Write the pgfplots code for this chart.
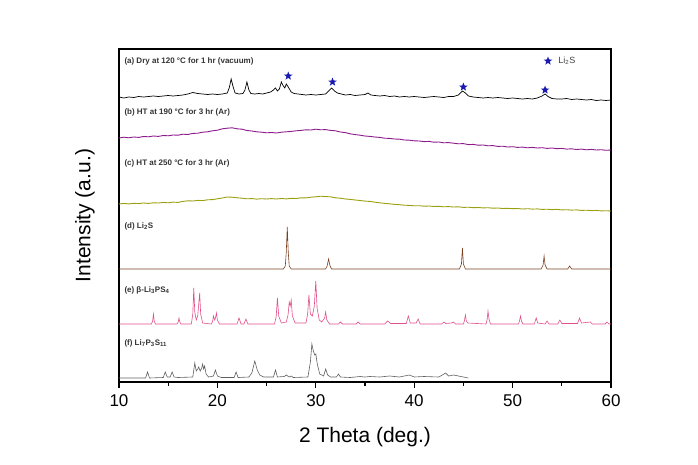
\documentclass[border=0pt]{standalone}
\usepackage{fontspec}
\setmainfont{Liberation Sans}
\usepackage{pgfplots}
\pgfplotsset{compat=1.18}
\definecolor{cB}{HTML}{8E1B8C}
\definecolor{cC}{HTML}{9AA010}
\definecolor{cD}{HTML}{7A4020}
\definecolor{cE}{HTML}{E0508A}
\definecolor{cF}{HTML}{606060}
\definecolor{cStar}{HTML}{1A1AB0}
\pgfdeclareplotmark{fstar}{%
  \pgfpathmoveto{\pgfpointpolar{90}{\pgfplotmarksize}}%
  \pgfpathlineto{\pgfpointpolar{126}{0.42\pgfplotmarksize}}%
  \pgfpathlineto{\pgfpointpolar{162}{\pgfplotmarksize}}%
  \pgfpathlineto{\pgfpointpolar{198}{0.42\pgfplotmarksize}}%
  \pgfpathlineto{\pgfpointpolar{234}{\pgfplotmarksize}}%
  \pgfpathlineto{\pgfpointpolar{270}{0.42\pgfplotmarksize}}%
  \pgfpathlineto{\pgfpointpolar{306}{\pgfplotmarksize}}%
  \pgfpathlineto{\pgfpointpolar{342}{0.42\pgfplotmarksize}}%
  \pgfpathlineto{\pgfpointpolar{18}{\pgfplotmarksize}}%
  \pgfpathlineto{\pgfpointpolar{54}{0.42\pgfplotmarksize}}%
  \pgfpathclose\pgfusepathqfill}
\begin{document}
\begin{tikzpicture}
\begin{axis}[
  width=492pt, height=333pt, scale only axis,
  xmin=10, xmax=60, ymin=0, ymax=333,
  xtick={10,20,...,60}, minor x tick num=1,
  ytick=\empty,
  tick pos=left, tick align=outside,
  major tick length=6pt, minor tick length=3.5pt,
  axis line style={line width=1.1pt},
  every tick/.style={black, line width=1.1pt},
  /pgf/number format/assume math mode=true,
  xticklabel style={font=\fontsize{17}{17}\selectfont, yshift=-3pt},
  xlabel={2 Theta (deg.)}, ylabel={Intensity (a.u.)},
  every axis x label/.style={at={(axis description cs:0.5,0)}, anchor=center, yshift=-55pt, font=\fontsize{21}{21}\selectfont},
  every axis y label/.style={at={(axis description cs:-0.069,0.5)}, rotate=90, anchor=center, font=\fontsize{21}{21}\selectfont},
  clip=false,
]
% (a)
\addplot[black, line width=0.7pt] coordinates {
(10.0,285)(10.5,284)(11.0,285)(11.5,284.5)(12.0,285.5)(12.5,285)(13.0,285.5)(13.5,286)(14.0,285.5)(14.5,286)(15.0,286.5)(15.5,286)(16.0,286.5)(16.5,287)(17.0,288)(17.5,289.5)(18.0,288.5)(18.5,288)(19.0,287.5)(19.5,288)(20.0,287.5)(20.5,288)(21.0,289)(21.2,294)(21.4,303)(21.6,295)(21.8,289)(22.2,288)(22.6,288.5)(22.8,292)(23.0,300)(23.2,292)(23.4,288.5)(23.8,288)(24.2,288.5)(24.6,288)(25.0,289)(25.4,290)(25.7,292)(25.9,294)(26.1,291)(26.3,293)(26.5,300)(26.7,296)(26.85,294)(27.0,298)(27.2,295)(27.5,290)(27.8,288.5)(28.2,288)(28.6,287.5)(29.0,287)(29.5,287.5)(30.0,287)(30.5,287.5)(31.0,288)(31.3,291)(31.6,294)(31.9,291)(32.2,289)(32.6,288)(33.0,287)(33.5,287.5)(34.0,286.5)(34.5,287)(35.0,287.5)(35.3,289)(35.6,287)(36.0,286.5)(36.5,286)(37.0,286.5)(37.5,285.5)(38.0,286)(38.5,285)(39.0,285.5)(39.5,285)(40.0,285.5)(40.5,285)(41.0,284.5)(41.5,285)(42.0,285.5)(42.5,285)(43.0,284.5)(43.5,285.5)(44.0,285.5)(44.5,287)(44.9,291)(45.2,289)(45.5,286)(46.0,285)(46.5,284.5)(47.0,284)(47.5,284.5)(48.0,284)(48.5,284.5)(49.0,284)(49.5,283.5)(50.0,284)(50.5,283.5)(51.0,283)(51.5,283.5)(52.0,283)(52.5,284)(53.0,286)(53.3,288)(53.6,285.5)(54.0,283.5)(54.5,283)(55.0,283)(55.5,283.5)(56.0,282.5)(56.5,283)(57.0,282.5)(57.5,282)(58.0,282.5)(58.5,281.5)(59.0,282)(59.5,281.5)(60.0,282)
};
% (b)
\addplot[cB, line width=0.9pt] coordinates {
(10.0,244)(10.5,244.8)(11.0,244.2)(11.5,245)(12.0,244.6)(12.5,245.5)(13.0,245.2)(13.5,246)(14.0,245.6)(14.5,246.5)(15.0,246.2)(15.5,247)(16.0,246.8)(16.5,247.8)(17.0,247.5)(17.5,248.6)(18.0,248.8)(18.5,249.8)(19.0,250.2)(19.5,251.2)(20.0,251.8)(20.5,253.2)(21.0,253.8)(21.5,254.2)(22.0,253.2)(22.5,252.8)(23.0,251.5)(23.5,251)(24.0,250.2)(24.5,249.8)(25.0,249.2)(25.5,249.5)(26.0,249)(26.5,249.8)(27.0,250.2)(27.5,250.6)(28.0,251.2)(28.5,251.6)(29.0,252.2)(29.5,252)(30.0,252.8)(30.5,252.2)(31.0,252.4)(31.5,251.6)(32.0,251.2)(32.5,250)(33.0,249.4)(33.5,248.2)(34.0,247.4)(34.5,246.8)(35.0,246)(35.5,245.6)(36.0,245)(36.5,244.6)(37.0,243.8)(37.5,243.6)(38.0,243)(38.5,242.8)(39.0,242)(39.5,241.8)(40.0,241.2)(40.5,241)(41.0,240.4)(41.5,240.6)(42.0,239.8)(42.5,240)(43.0,239.2)(43.5,239.4)(44.0,238.8)(44.5,238.2)(45.0,238.4)(45.5,237.4)(46.0,237.6)(46.5,236.8)(47.0,237)(47.5,236.2)(48.0,236.4)(48.5,235.6)(49.0,235.8)(49.5,235)(50.0,235.3)(50.5,234.6)(51.0,234.9)(51.5,234.2)(52.0,234.6)(52.5,234)(53.0,234.3)(53.5,233.6)(54.0,234)(54.5,233.3)(55.0,233.6)(55.5,232.9)(56.0,233.2)(56.5,232.5)(57.0,232.9)(57.5,232.2)(58.0,232.6)(58.5,232)(59.0,232.3)(59.5,231.7)(60.0,232)
};
% (c)
\addplot[cC, line width=0.9pt] coordinates {
(10.0,178)(10.5,178.6)(11.0,178.1)(11.5,178.7)(12.0,178.4)(12.5,179)(13.0,178.6)(13.5,179.2)(14.0,179)(14.5,179.6)(15.0,179.2)(15.5,179.9)(16.0,179.6)(16.5,180.6)(17.0,181.2)(17.5,181)(18.0,181.6)(18.5,181.4)(19.0,182.2)(19.5,182.4)(20.0,183.2)(20.5,184)(21.0,185)(21.5,184.8)(22.0,184.2)(22.5,183.8)(23.0,183.2)(23.5,183.4)(24.0,182.9)(24.5,183.3)(25.0,183)(25.5,183.4)(26.0,183)(26.5,183.5)(27.0,183.1)(27.5,183.7)(28.0,183.5)(28.5,184.2)(29.0,184.1)(29.5,184.8)(30.0,185.2)(30.5,185.8)(31.0,185.4)(31.5,185.2)(32.0,184.2)(32.5,183.8)(33.0,183)(33.5,182.6)(34.0,182)(34.5,181.5)(35.0,180.9)(35.5,180.6)(36.0,179.8)(36.5,179.2)(37.0,178.6)(37.5,178.2)(38.0,177.6)(38.5,177.3)(39.0,176.8)(39.5,176.6)(40.0,176.2)(40.5,176.3)(41.0,175.8)(41.5,176)(42.0,175.5)(42.5,175.7)(43.0,175.2)(43.5,175.4)(44.0,175)(44.5,175.2)(45.0,174.6)(45.5,174.8)(46.0,174.3)(46.5,174.5)(47.0,174.1)(47.5,174.3)(48.0,173.8)(48.5,174)(49.0,173.5)(49.5,173.7)(50.0,173.3)(50.5,173.5)(51.0,173)(51.5,173.3)(52.0,172.9)(52.5,173.1)(53.0,172.6)(53.5,172.8)(54.0,172.4)(54.5,172.6)(55.0,172.1)(55.5,172.3)(56.0,171.9)(56.5,172.1)(57.0,171.6)(57.5,171.8)(58.0,171.4)(58.5,171.6)(59.0,171.1)(59.5,171.3)(60.0,171)
};
% (d)
\addplot[cD, line width=0.6pt] coordinates {
(10,113)(26.7,113)(26.9,116)(27.0,130)(27.1,155)(27.2,130)(27.3,116)(27.5,113)(31.0,113)(31.15,116)(31.3,123)(31.45,116)(31.6,113)(44.6,113)(44.8,118)(44.9,134)(45.0,118)(45.2,113)(52.9,113)(53.1,117)(53.2,126)(53.3,117)(53.5,113)(55.6,113)(55.8,116)(56.0,113)(60,113)
};
% (e)
\addplot[cE, line width=0.6pt] coordinates {
(10,58)(13.3,58)(13.42,61)(13.5,68)(13.58,61)(13.7,58)(15.9,58)(16.02,60)(16.1,64)(16.18,60)(16.3,58)
(17.35,58)(17.5,68)(17.6,94)(17.7,70)(17.85,62)(18.0,66)(18.2,89)(18.3,68)(18.5,59)
(19.4,58)(19.52,61)(19.6,66)(19.72,62)(19.8,64)(19.9,69)(20.0,62)(20.2,58)
(22.0,58)(22.2,64)(22.4,58)(22.7,58)(22.9,63)(23.1,58)
(25.8,58)(25.97,65)(26.1,84)(26.23,66)(26.5,59)(27.0,60)(27.18,67)(27.3,80)(27.4,76)(27.5,82)(27.62,66)(27.9,59)
(29.0,59)(29.17,68)(29.3,87)(29.45,68)(29.65,66)(29.85,76)(30.0,101)(30.13,74)(30.35,62)(30.6,60)(30.9,64)(31.0,70)(31.12,62)(31.4,58)
(32.3,58)(32.5,60)(32.7,58)(34.1,58)(34.3,60)(34.5,58)(37.0,58)(37.3,61)(37.6,58.5)
(39.2,58.5)(39.4,66)(39.6,59)(40.2,59)(40.4,63)(40.6,58)(42.8,58)(43.0,60)(43.2,58.5)(43.8,59)(44.0,60)(44.2,58)
(45.0,58)(45.1,61)(45.2,67)(45.3,61)(45.45,59)(47.3,58)(47.42,63)(47.5,71)(47.6,63)(47.75,58)
(50.6,58)(50.7,61)(50.8,66)(50.9,61)(51.05,58)(52.2,58)(52.4,64)(52.55,59)(53.3,58)(53.5,61)(53.7,58)(54.6,58)(54.8,62)(55.0,58.5)(56.6,58.5)(56.8,64)(57.0,59)(57.9,60)(58.1,58)(59.4,58)(59.6,60)(59.8,58)(60,58)
};
% (f)
\addplot[cF, line width=0.6pt] coordinates {
(10,4)(12.7,4)(12.9,10)(13.1,4)(14.5,4.5)(14.7,10)(14.9,5)(15.2,5)(15.4,10)(15.6,5)(16.0,4.5)(17.5,5)(17.7,19)(17.85,11)(18.0,13)(18.1,15)(18.25,11)(18.4,14)(18.5,18)(18.6,13)(18.7,16)(18.85,8)(19.1,5)(19.6,6)(19.8,12)(20.0,6)(20.4,4.5)(21.7,4.5)(21.9,10)(22.1,4.5)(23.2,5)(23.5,9)(23.8,21)(24.05,12)(24.3,7)(24.7,5)(25.7,5)(25.9,12)(26.1,5)(26.8,5.5)(27.0,7)(27.3,5)(27.5,6)(27.7,4.5)(29.2,5)(29.45,20)(29.6,38)(29.75,31)(29.9,27)(30.0,28)(30.15,18)(30.4,8)(30.8,6)(31.0,13)(31.2,7)(31.5,5)(32.1,5)(32.3,8)(32.5,5)(33.5,4.5)(34.5,5.5)(35.0,5)(35.5,5.5)(36.5,5)(37.5,6)(38.5,5)(39.5,7)(40.0,5)(41.0,5.5)(42.5,5)(43.2,9)(43.5,6)(44.0,7)(44.5,6)(45.0,5)(45.5,4)
};
% stars
\addplot[only marks, mark=fstar, mark size=4.5pt, color=cStar] coordinates {(27.2,306)(31.7,300)(45.0,295)(53.3,292)(53.6,321)};
\node[anchor=west, font=\fontsize{9}{9}\selectfont, text=black!75] at (axis cs:54.3,321) {Li\textsubscript{2}S};
\begin{scope}[every node/.style={anchor=west, font=\fontsize{8}{8}\selectfont\bfseries, text=black!80}]
\node at (axis cs:10.2,321) {(a) Dry at 120 °C for 1 hr (vacuum)};
\node at (axis cs:10.2,270) {(b) HT at 190 °C for 3 hr (Ar)};
\node at (axis cs:10.2,219) {(c) HT at 250 °C for 3 hr (Ar)};
\node at (axis cs:10.2,156) {(d) Li\textsubscript{2}S};
\node at (axis cs:10.2,92) {(e) β-Li\textsubscript{3}PS\textsubscript{4}};
\node at (axis cs:10.2,39) {(f) Li\textsubscript{7}P\textsubscript{3}S\textsubscript{11}};
\end{scope}
\end{axis}
\pgfresetboundingbox
\path[use as bounding box] ([xshift=-119pt,yshift=-82pt]current axis.south west) rectangle ([xshift=87pt,yshift=49pt]current axis.north east);
\end{tikzpicture}
\end{document}
